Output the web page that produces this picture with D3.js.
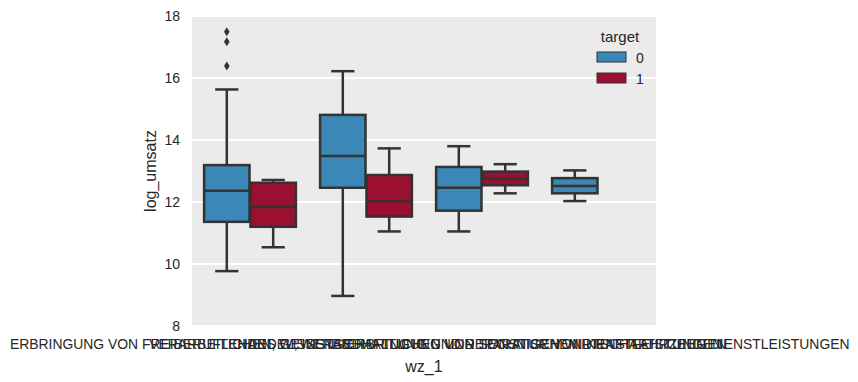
<!DOCTYPE html>
<html><head><meta charset="utf-8">
<script src="https://cdn.jsdelivr.net/npm/d3@7"></script>
<style>body{margin:0;background:#fff;} text{font-family:Arial,"Liberation Sans",sans-serif;fill:#262626;}</style>
</head><body><svg id="c" width="858" height="382"></svg>
<script>
const categories = [
  "VERARBEITENDES GEWERBE",
  "ERBRINGUNG VON FREIBERUFLICHEN, WISSENSCHAFTLICHEN UND TECHNISCHEN DIENSTLEISTUNGEN",
  "HANDEL; INSTANDHALTUNG UND REPARATUR VON KRAFTFAHRZEUGEN",
  "ERBRINGUNG VON SONSTIGEN WIRTSCHAFTLICHEN DIENSTLEISTUNGEN"
];
const hues = ["0", "1"];
// [category index, hue, whiskerLow, q1, median, q3, whiskerHigh]
const boxStats = [
  [0, "0", 9.77, 11.36, 12.36, 13.19, 15.63],
  [0, "1", 10.54, 11.20, 11.84, 12.62, 12.71],
  [1, "0", 8.97, 12.46, 13.48, 14.81, 16.22],
  [1, "1", 11.05, 11.53, 12.03, 12.87, 13.73],
  [2, "0", 11.05, 11.72, 12.46, 13.13, 13.80],
  [2, "1", 12.28, 12.54, 12.75, 12.98, 13.22],
  [3, "0", 12.03, 12.28, 12.52, 12.77, 13.02]
];
const outliers = [
  [0, "0", 17.49], [0, "0", 17.17], [0, "0", 16.39]
];
const yTicks = [8, 10, 12, 14, 16, 18];
const colors = {"0": "#3b87b7", "1": "#9b0f30"};

const svg = d3.select("#c");
const L = 192, R = 656, T = 16, B = 326;
const x = d3.scaleBand().domain(d3.range(categories.length)).range([L, R]).padding(0);
const xh = d3.scaleBand().domain(hues).range([0, x.bandwidth() * 0.8]);
const y = d3.scaleLinear().domain([8, 18]).range([B, T]);
const lineC = "#333333";
const FF = "Arial, 'Liberation Sans', sans-serif";

svg.append("rect").attr("x", L).attr("y", T).attr("width", R - L).attr("height", B - T).attr("fill", "#ebebeb");
svg.append("g").selectAll("line").data(yTicks).join("line")
  .attr("x1", L).attr("x2", R).attr("y1", d => y(d)).attr("y2", d => y(d))
  .attr("stroke", "#fff").attr("stroke-width", 1.8);

const yAxis = d3.axisLeft(y).tickValues(yTicks).tickSize(0).tickPadding(12).tickFormat(d3.format("d"));
const ga = svg.append("g").attr("transform", `translate(${L},0)`).call(yAxis);
ga.select(".domain").remove();
ga.selectAll("text").attr("font-size", 14).style("font-family", FF).attr("fill", "#262626");

const xAxis = d3.axisBottom(x).tickSize(0).tickPadding(13).tickFormat(i => categories[i]);
const gx = svg.append("g").attr("transform", `translate(0,${B})`).call(xAxis);
gx.select(".domain").remove();
gx.selectAll("text").attr("font-size", 13.9).style("font-family", FF).attr("fill", "#262626");

svg.append("text").attr("x", 424).attr("y", 372).attr("text-anchor", "middle").attr("font-size", 16).text("wz_1");
svg.append("text").attr("transform", "translate(156,171) rotate(-90)").attr("text-anchor", "middle").attr("font-size", 16).text("log_umsatz");

const bw = xh.bandwidth();
const g = svg.append("g");
boxStats.forEach(([ci, h, lo, q1, med, q3, hi]) => {
  const x0 = x(ci) + x.bandwidth() * 0.1 + xh(h);
  const cx = x0 + bw / 2;
  const bx = g.append("g");
  bx.append("line").attr("x1", cx).attr("x2", cx).attr("y1", y(q3)).attr("y2", y(hi)).attr("stroke", lineC).attr("stroke-width", 2.5);
  bx.append("line").attr("x1", cx).attr("x2", cx).attr("y1", y(q1)).attr("y2", y(lo)).attr("stroke", lineC).attr("stroke-width", 2.5);
  [lo, hi].forEach(v => bx.append("line").attr("x1", cx - bw / 4).attr("x2", cx + bw / 4).attr("y1", y(v)).attr("y2", y(v)).attr("stroke", lineC).attr("stroke-width", 2.5));
  bx.append("rect").attr("x", x0 + 0.5).attr("width", bw - 1).attr("y", y(q3)).attr("height", y(q1) - y(q3))
    .attr("fill", colors[h]).attr("stroke", lineC).attr("stroke-width", 2.5);
  bx.append("line").attr("x1", x0 + 0.5).attr("x2", x0 + bw - 0.5).attr("y1", y(med)).attr("y2", y(med)).attr("stroke", lineC).attr("stroke-width", 2.5);
});
g.selectAll("path.out").data(outliers).join("path")
  .attr("transform", d => `translate(${x(d[0]) + x.bandwidth() * 0.1 + xh(d[1]) + bw / 2},${y(d[2])})`)
  .attr("d", "M0,-4.5L2.8,0L0,4.5L-2.8,0Z").attr("fill", lineC);

// legend
const lg = svg.append("g");
lg.append("text").attr("x", 620).attr("y", 42).attr("text-anchor", "middle").attr("font-size", 15).text("target");
hues.forEach((h, i) => {
  lg.append("rect").attr("x", 597).attr("y", 52 + i * 21).attr("width", 29).attr("height", 10)
    .attr("fill", colors[h]).attr("stroke", lineC).attr("stroke-width", 1);
  lg.append("text").attr("x", 636).attr("y", 62.5 + i * 21).attr("font-size", 14).text(h);
});
</script></body></html>
